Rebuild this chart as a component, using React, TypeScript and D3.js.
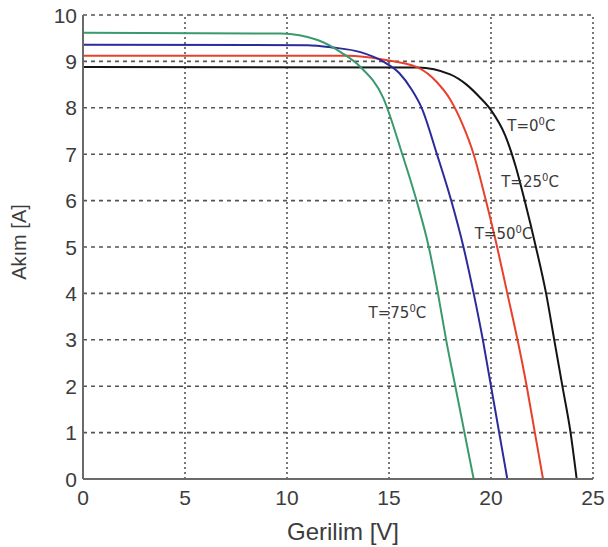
import React from 'react';
import * as d3 from 'd3';

// I-V curves: [voltage (V), current (A)]
const curve0C = [[0, 8.88], [16.4, 8.87], [18, 8.72], [18.8, 8.5], [19.4, 8.25], [20.0, 7.95], [20.7, 7.4], [21.2, 6.75], [21.65, 6.0], [22.2, 5.0], [22.7, 4.0], [23.1, 3.0], [23.5, 2.0], [23.9, 1.0], [24.2, 0]];
const curve25C = [[0, 9.12], [13, 9.12], [14.7, 9.04], [16.4, 8.87], [17.35, 8.55], [18.0, 8.18], [18.6, 7.65], [19.15, 7.0], [19.75, 6.0], [20.3, 5.0], [20.8, 4.0], [21.3, 3.0], [21.75, 2.0], [22.15, 1.0], [22.55, 0]];
const curve50C = [[0, 9.36], [11, 9.35], [12.25, 9.3], [13.6, 9.2], [14.7, 9.0], [15.5, 8.75], [16.1, 8.4], [16.6, 8.0], [17.35, 7.0], [18.05, 6.0], [18.65, 5.0], [19.15, 4.0], [19.6, 3.0], [20.0, 2.0], [20.4, 1.0], [20.8, 0]];
const curve75C = [[0, 9.62], [9.7, 9.6], [11.5, 9.46], [12.7, 9.18], [13.6, 8.88], [14.7, 8.23], [15.65, 7.0], [16.35, 6.0], [16.95, 5.0], [17.4, 4.0], [17.8, 3.0], [18.25, 2.0], [18.7, 1.0], [19.15, 0]];

const seriesNames = ['T=0', 'T=25', 'T=50', 'T=75'];
const seriesColors = ['#141414', '#e8412b', '#2b2b9c', '#3a9a6e'];
const seriesData = [curve0C, curve25C, curve50C, curve75C];
// label anchor points in data units [V, A]
const labelPos = [[20.8, 7.5], [20.5, 6.3], [19.2, 5.17], [14.0, 3.47]];

const xTicks = [0, 5, 10, 15, 20, 25];
const yTicks = [0, 1, 2, 3, 4, 5, 6, 7, 8, 9, 10];

export default function App() {
    const W = 608, H = 547;
    const x = d3.scaleLinear().domain([0, 25]).range([83, 593]);
    const y = d3.scaleLinear().domain([0, 10]).range([479, 15]);

    const line = d3.line<number[]>()
        .x(d => x(d[0]))
        .y(d => y(d[1]))
        .curve(d3.curveMonotoneX);

    const font = 'Liberation Sans, Arial, sans-serif';
    const labelFont = 'DejaVu Sans, Verdana, sans-serif';

    return (
        <svg width={W} height={H} style={{position: 'absolute', left: 0, top: 0, background: '#fff'}}>
            {/* grid */}
            {yTicks.filter(t => t > 0).map(t => (
                <line key={'gy' + t} x1={x(0)} x2={x(25)} y1={y(t)} y2={y(t)}
                    stroke="#555" strokeWidth={1.6} strokeDasharray="4,4"/>
            ))}
            {xTicks.filter(t => t > 0).map(t => (
                <line key={'gx' + t} x1={x(t)} x2={x(t)} y1={y(0)} y2={y(10)}
                    stroke="#555" strokeWidth={1.6} strokeDasharray="2,3"/>
            ))}

            {/* curves */}
            {seriesData.map((d, i) => (
                <path key={seriesNames[i]} d={line(d as any) || ''} fill="none"
                    stroke={seriesColors[i]} strokeWidth={2}/>
            ))}

            {/* axes */}
            <line x1={x(0)} x2={x(0)} y1={y(0)} y2={y(10)} stroke="#6a6a6a" strokeWidth={2}/>
            <line x1={x(0)} x2={x(25)} y1={y(0)} y2={y(0)} stroke="#6a6a6a" strokeWidth={2}/>

            {yTicks.map(t => (
                <text key={'ty' + t} x={x(0) - 6} y={y(t)} dy="0.36em" textAnchor="end"
                    fontFamily={font} fontSize={21} fill="#3c3c3c">{t}</text>
            ))}
            {xTicks.map(t => (
                <text key={'tx' + t} x={x(t)} y={y(0) + 26} textAnchor="middle"
                    fontFamily={font} fontSize={21} fill="#3c3c3c">{t}</text>
            ))}

            {/* series labels */}
            {seriesNames.map((n, i) => (
                <text key={'lbl' + n} x={x(labelPos[i][0])} y={y(labelPos[i][1])}
                    fontFamily={labelFont} fontSize={15} fill="#3a3a3a">
                    {n}<tspan dy={-6} fontSize={10}>0</tspan><tspan dy={6}>C</tspan>
                </text>
            ))}

            <text x={343} y={540} textAnchor="middle"
                fontFamily={font} fontSize={24} fill="#3c3c3c">Gerilim [V]</text>
            <text transform="translate(26, 242) rotate(-90)" textAnchor="middle"
                fontFamily={font} fontSize={20} fill="#3c3c3c">Akım [A]</text>
        </svg>
    );
}
